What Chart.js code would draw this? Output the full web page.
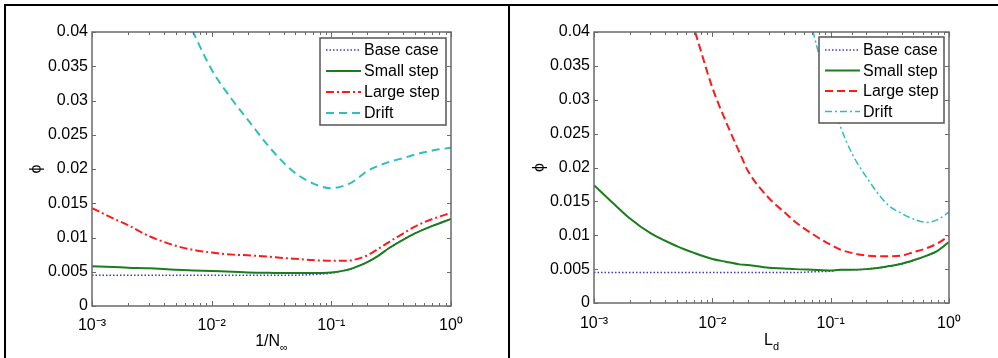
<!DOCTYPE html>
<html>
<head>
<meta charset="utf-8">
<script src="https://cdn.jsdelivr.net/npm/chart.js@4/dist/chart.umd.min.js"></script>
<style>
  html, body { margin: 0; padding: 0; background: #fff; }
  body { width: 998px; height: 358px; position: relative; overflow: hidden; }
  .ln { position: absolute; background: #000; }
  canvas { position: absolute; top: 0; }
</style>
</head>
<body>
<div class="ln" style="left:4px;top:4px;width:994px;height:2px"></div>
<div class="ln" style="left:4px;top:4px;width:2px;height:354px"></div>
<div class="ln" style="left:508px;top:4px;width:2px;height:354px"></div>
<canvas id="c1" width="508" height="358" style="left:0px"></canvas>
<canvas id="c2" width="488" height="358" style="left:510px"></canvas>
<script>
// ---------- data ----------
const seriesNames = ['Base case', 'Small step', 'Large step', 'Drift'];
const yTickLabels = ['0', '0.005', '0.01', '0.015', '0.02', '0.025', '0.03', '0.035', '0.04'];
const xTickLabels = ['10\u207B\u00B3', '10\u207B\u00B2', '10\u207B\u00B9', '10\u2070'];

// Left panel: x = 1/N_inf
const xInvN = [0.001, 0.0015, 0.002, 0.003, 0.005, 0.007, 0.01, 0.015, 0.02, 0.03, 0.04, 0.05, 0.07, 0.1, 0.13, 0.15, 0.2, 0.25, 0.3, 0.4, 0.5, 0.7, 1.0];
const leftBase  = [0.0045, 0.0045, 0.0045, 0.0045, 0.0045, 0.0045, 0.0045, 0.0045, 0.0045, 0.0045, 0.0045, 0.0045, 0.0046, 0.0048, 0.0052, 0.0055, 0.0064, 0.0074, 0.0084, 0.0097, 0.0106, 0.0117, 0.0127];
const leftSmall = [0.0058, 0.0057, 0.0056, 0.0055, 0.0053, 0.0052, 0.0051, 0.0050, 0.0049, 0.00485, 0.0048, 0.0048, 0.0048, 0.0049, 0.0052, 0.0055, 0.0064, 0.0074, 0.0084, 0.0097, 0.0106, 0.0117, 0.0127];
const leftLarge = [0.0143, 0.0128, 0.0118, 0.0102, 0.0088, 0.0082, 0.0078, 0.0075, 0.0074, 0.0072, 0.0070, 0.0069, 0.0067, 0.0066, 0.0066, 0.0067, 0.0074, 0.0084, 0.0093, 0.0106, 0.0116, 0.0127, 0.0136];
const leftDrift = [0.075, 0.064, 0.058, 0.052, 0.0455, 0.0400, 0.0345, 0.0300, 0.0272, 0.0233, 0.0209, 0.0194, 0.0179, 0.0172, 0.0176, 0.0181, 0.0197, 0.0205, 0.0210, 0.0216, 0.0221, 0.0227, 0.0231];

// Right panel: x = L_d
const xLd = [0.001, 0.0015, 0.002, 0.003, 0.005, 0.007, 0.01, 0.013, 0.017, 0.02, 0.03, 0.04, 0.05, 0.07, 0.1, 0.12, 0.15, 0.2, 0.3, 0.4, 0.5, 0.65, 0.8, 1.0];
const rightBase  = [0.0045, 0.0045, 0.0045, 0.0045, 0.0045, 0.0045, 0.0045, 0.0045, 0.0045, 0.0045, 0.0045, 0.0045, 0.0045, 0.0046, 0.0047, 0.0049, 0.0049, 0.0050, 0.0054, 0.0058, 0.0063, 0.0070, 0.0077, 0.0090];
const rightSmall = [0.0174, 0.0145, 0.0125, 0.0103, 0.0084, 0.0074, 0.0065, 0.0061, 0.0057, 0.0056, 0.0052, 0.0051, 0.0050, 0.0049, 0.0048, 0.0049, 0.0049, 0.0050, 0.0054, 0.0058, 0.0063, 0.0070, 0.0077, 0.0090];
const rightLarge = [0.10, 0.085, 0.072, 0.060, 0.048, 0.0405, 0.0318, 0.0268, 0.0222, 0.0195, 0.0155, 0.0135, 0.0120, 0.0102, 0.0086, 0.0079, 0.0074, 0.0070, 0.0069, 0.0070, 0.0075, 0.0081, 0.0088, 0.0099];
const rightDrift = [null, null, null, null, null, null, null, null, null, null, 0.075, 0.062, 0.052, 0.0405, 0.0305, 0.0262, 0.0222, 0.0186, 0.0146, 0.0132, 0.0124, 0.0119, 0.0123, 0.0134];

// ---------- helpers ----------
const FONT = "'Liberation Sans', Arial, Helvetica, sans-serif";
function pts(xs, ys) { return xs.map((x, i) => ({ x: x, y: ys[i] })); }

const framePlugin = {
  id: 'frame',
  afterDatasetsDraw(chart, args, o) {
    const { ctx, chartArea: a } = chart;
    const x = chart.scales.x, y = chart.scales.y;
    ctx.save();
    ctx.strokeStyle = '#6a6a6a';
    ctx.lineWidth = 1;
    ctx.beginPath();
    x.ticks.forEach(t => {
      const px = Math.round(x.getPixelForValue(t.value)) + 0.5;
      const e = Math.log10(t.value);
      const len = Math.abs(e - Math.round(e)) < 1e-6 ? 5 : 3;
      ctx.moveTo(px, a.bottom); ctx.lineTo(px, a.bottom - len);
      ctx.moveTo(px, a.top); ctx.lineTo(px, a.top + len);
    });
    y.ticks.forEach(t => {
      const py = Math.round(y.getPixelForValue(t.value)) + 0.5;
      ctx.moveTo(a.left, py); ctx.lineTo(a.left + 4, py);
      ctx.moveTo(a.right, py); ctx.lineTo(a.right - 4, py);
    });
    ctx.stroke();
    ctx.lineWidth = 1.5;
    ctx.strokeRect(a.left, a.top, a.right - a.left, a.bottom - a.top);

    // legend box
    const L = o.legend;
    const lx = a.right - L.inset - L.w, ly = a.top + L.top;
    ctx.fillStyle = '#fff';
    ctx.fillRect(lx, ly, L.w, L.h);
    ctx.strokeStyle = '#555';
    ctx.lineWidth = 1.5;
    ctx.strokeRect(lx, ly, L.w, L.h);
    ctx.font = '16px ' + FONT;
    ctx.textBaseline = 'middle';
    ctx.textAlign = 'left';
    chart.data.datasets.forEach((ds, i) => {
      const ry = ly + L.first + i * L.step;
      ctx.save();
      ctx.strokeStyle = ds.borderColor;
      ctx.lineWidth = ds.borderWidth;
      ctx.setLineDash(ds.borderDash || []);
      ctx.beginPath();
      ctx.moveTo(lx + 6, ry); ctx.lineTo(lx + 41, ry);
      ctx.stroke();
      ctx.restore();
      ctx.fillStyle = '#000';
      ctx.fillText(ds.label, lx + 44, ry + 1);
    });
    ctx.restore();
  },
  afterDraw(chart, args, o) {
    const { ctx, chartArea: a } = chart;
    const T = o.title;
    ctx.save();
    ctx.fillStyle = '#000';
    ctx.textBaseline = 'alphabetic';
    ctx.font = '16px ' + FONT;
    const wMain = ctx.measureText(T.main).width;
    ctx.font = '11px ' + FONT;
    const wSub = ctx.measureText(T.sub).width;
    const cx = (a.left + a.right) / 2;
    const x0 = cx - (wMain + wSub) / 2;
    const by = a.bottom + T.offset;
    ctx.textAlign = 'left';
    ctx.font = '16px ' + FONT;
    ctx.fillText(T.main, x0, by);
    ctx.font = '11px ' + FONT;
    ctx.fillText(T.sub, x0 + wMain, by + 5);
    ctx.restore();
  }
};

function makeChart(id, xs, ys, styles, cfg) {
  const datasets = seriesNames.map((name, i) => ({
    label: name,
    data: pts(xs, ys[i]),
    borderColor: styles[i].color,
    borderWidth: styles[i].width,
    borderDash: styles[i].dash,
    pointRadius: 0,
    fill: false,
    cubicInterpolationMode: 'monotone',
    order: 4 - i
  }));
  return new Chart(document.getElementById(id), {
    type: 'line',
    data: { datasets },
    plugins: [framePlugin],
    options: {
      responsive: false,
      animation: false,
      devicePixelRatio: 1,
      layout: { padding: { top: cfg.top, right: cfg.right, left: 0, bottom: 0 } },
      plugins: {
        legend: { display: false },
        tooltip: { enabled: false },
        frame: { legend: cfg.legend, title: cfg.title }
      },
      scales: {
        x: {
          type: 'logarithmic', min: 0.001, max: 1,
          grid: { display: false, drawTicks: false }, border: { display: false },
          ticks: {
            autoSkip: false, maxRotation: 0, padding: cfg.xPad, color: '#000',
            font: { family: FONT, size: 16 },
            callback: (v) => {
              const l = Math.log10(v), e = Math.round(l);
              return Math.abs(l - e) < 1e-9 ? xTickLabels[e + 3] : '';
            }
          },
          afterFit: (s) => { s.height = cfg.xH; }
        },
        y: {
          type: 'linear', min: 0, max: 0.04,
          grid: { display: false, drawTicks: false }, border: { display: false },
          title: { display: true, text: '\u03D5', color: '#000', font: { family: FONT, size: 16 }, padding: { top: cfg.yTitlePad, bottom: 0 } },
          ticks: {
            stepSize: 0.005, padding: 4, color: '#000',
            font: { family: FONT, size: 16 },
            callback: (v, i) => yTickLabels[i]
          },
          afterFit: (s) => { s.width = cfg.yW; }
        }
      }
    }
  });
}

makeChart('c1', xInvN, [leftBase, leftSmall, leftLarge, leftDrift], [
  { color: '#3a3ad0', width: 1.5, dash: [1.5, 2] },
  { color: '#1b7d1b', width: 2, dash: [] },
  { color: '#ff1a1a', width: 2, dash: [8, 3, 2, 3] },
  { color: '#2dbfbf', width: 2, dash: [8, 5] }
], {
  top: 32, right: 57, xH: 52, yW: 92, xPad: 10, yTitlePad: 27.4,
  legend: { inset: 5, top: 6, w: 126, h: 87, first: 12, step: 21 },
  title: { main: '1/N', sub: '\u221E', offset: 40 }
});

makeChart('c2', xLd, [rightBase, rightSmall, rightLarge, rightDrift], [
  { color: '#3a3ad0', width: 1.5, dash: [1.5, 2] },
  { color: '#1b7d1b', width: 2, dash: [] },
  { color: '#ff1a1a', width: 2, dash: [8, 4] },
  { color: '#2dbfbf', width: 1.5, dash: [7, 3, 2, 3] }
], {
  top: 32, right: 49, xH: 55, yW: 84, xPad: 11, yTitlePad: 20.4,
  legend: { inset: 5, top: 5, w: 125, h: 86, first: 13, step: 20.5 },
  title: { main: 'L', sub: 'd', offset: 42 }
});
</script>
</body>
</html>
